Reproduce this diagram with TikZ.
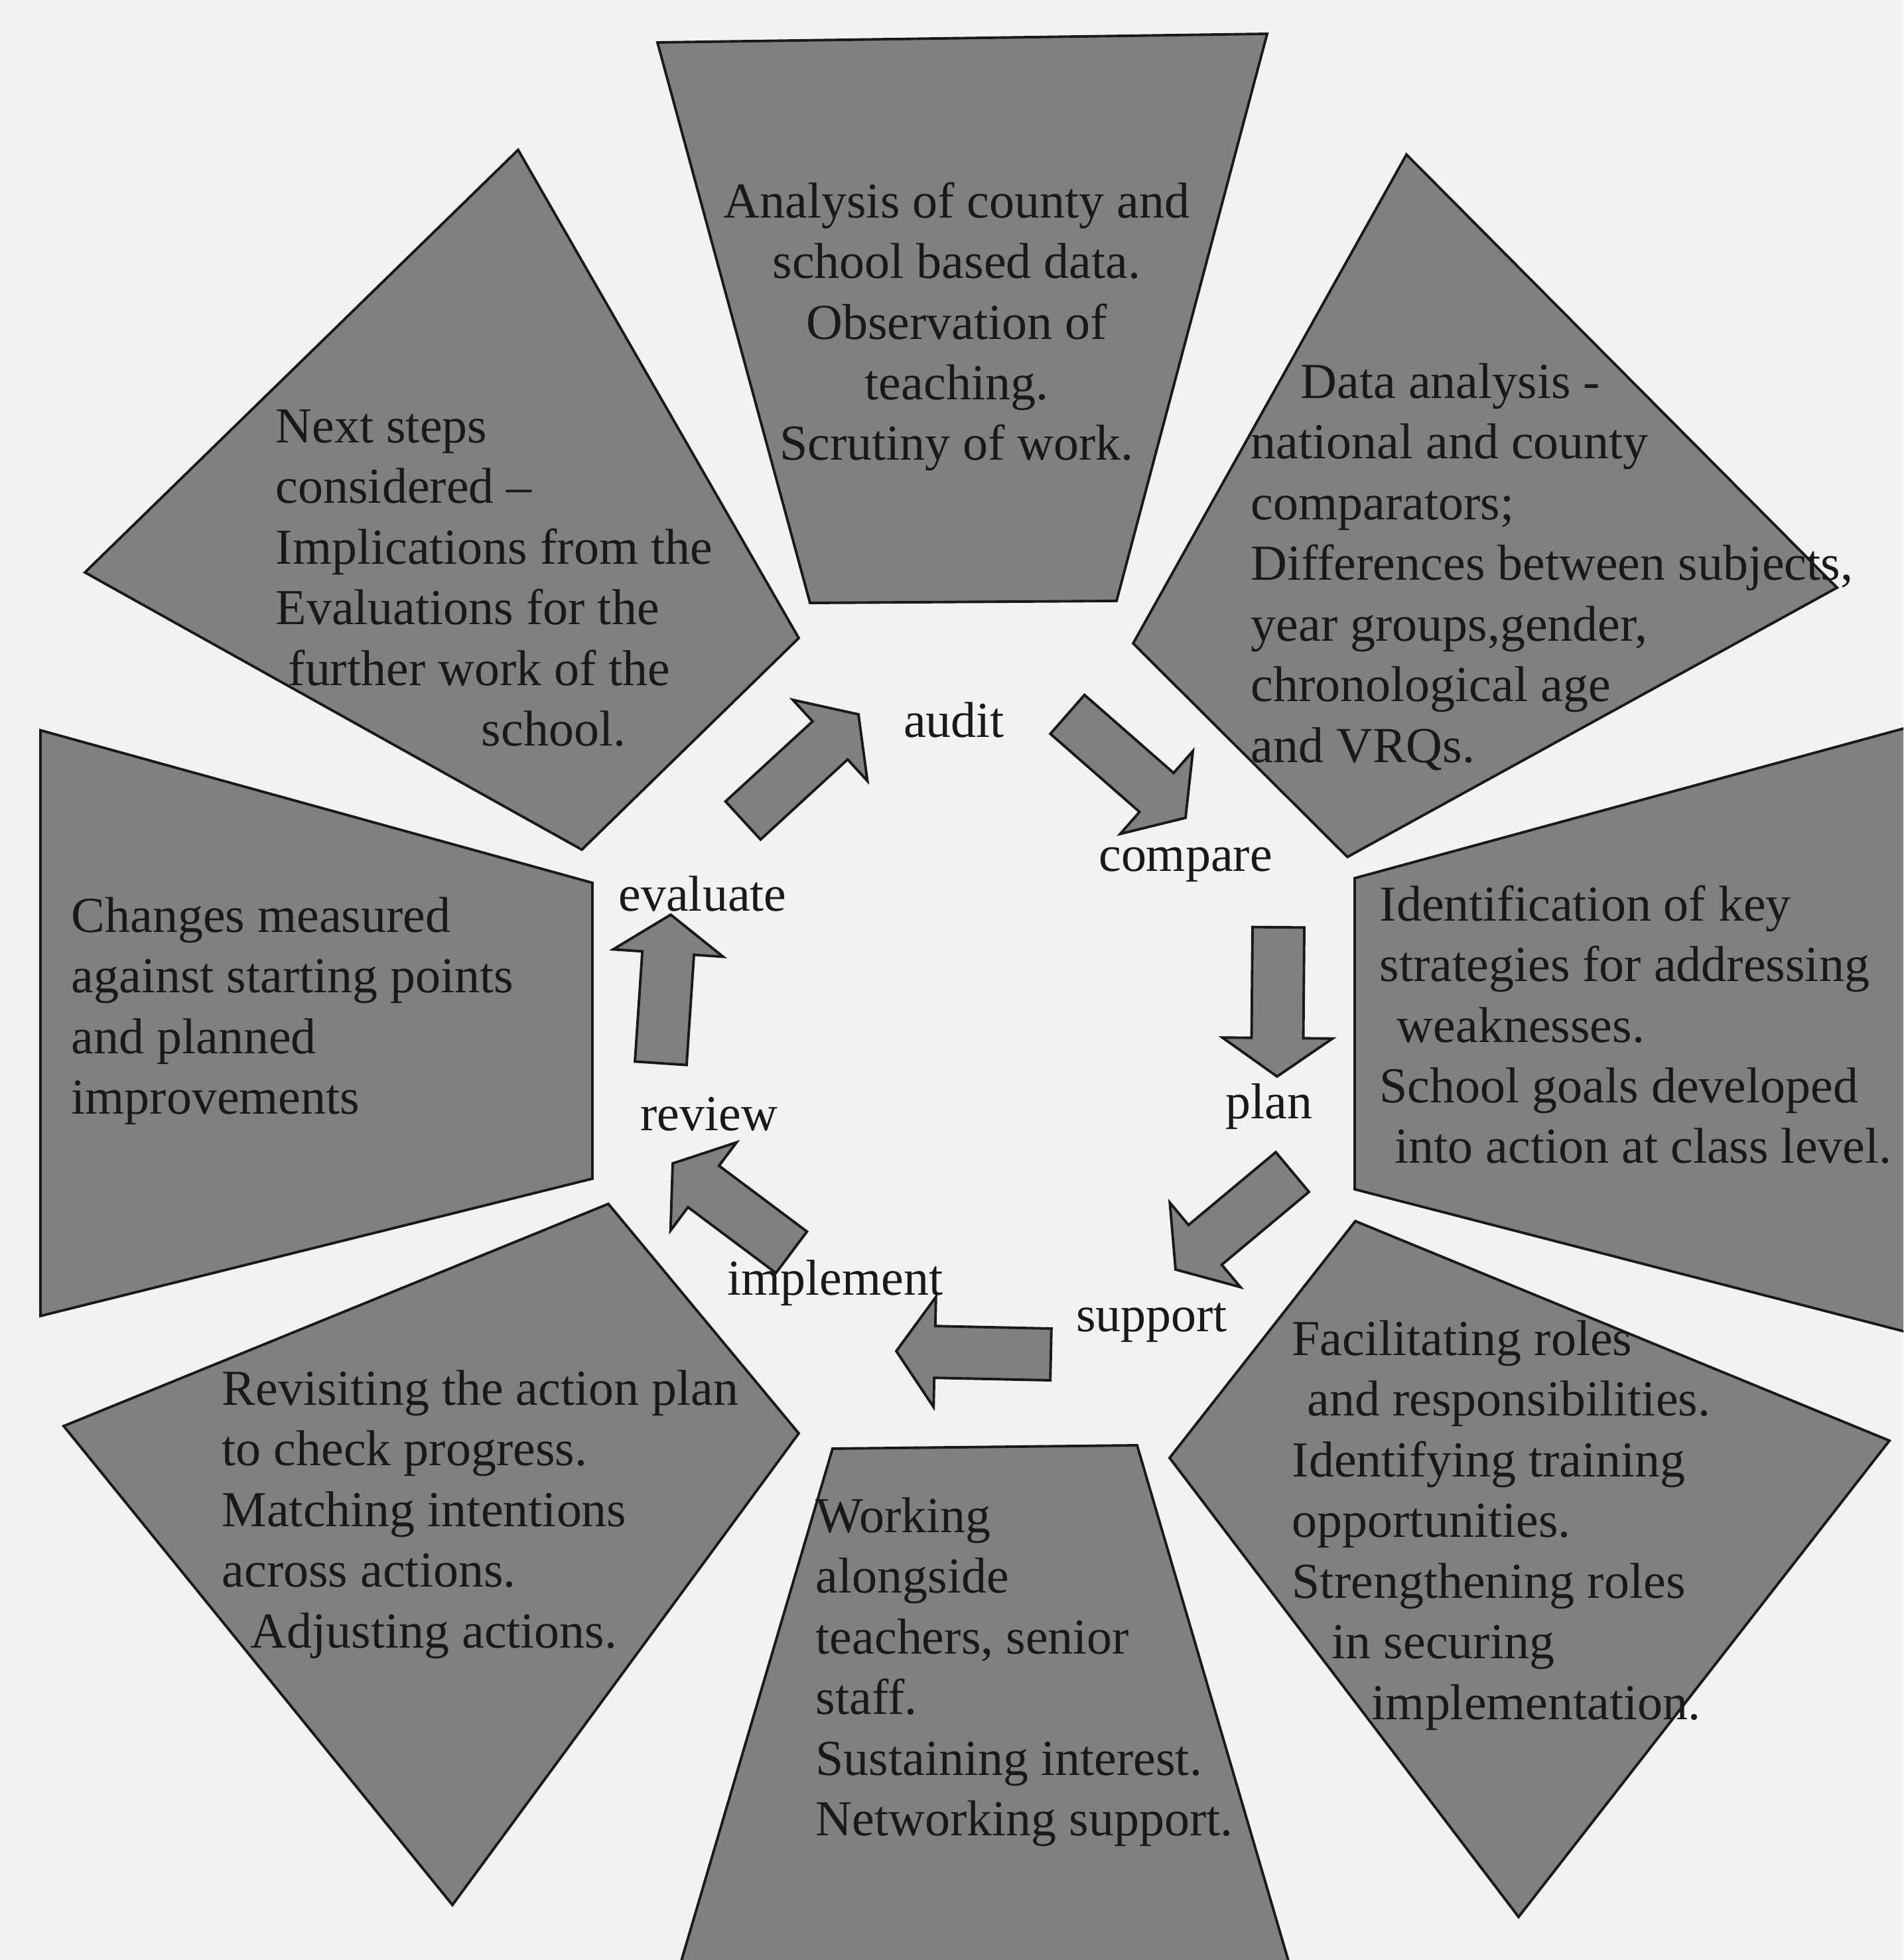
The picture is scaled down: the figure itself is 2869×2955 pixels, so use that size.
\documentclass[tikz,border=0pt]{standalone}
\usepackage{fontspec}
\setmainfont{Liberation Serif}
\usetikzlibrary{calc}

\definecolor{boxgray}{gray}{0.5}
\definecolor{inkgray}{gray}{0.1}
\definecolor{papergray}{gray}{0.95}

% block arrow from tail coordinate #1 to tip coordinate #2
\newcommand{\cyclearrow}[2]{%
  \path ($(#2)!0.58cm!(#1)$) coordinate (arrhead);
  \draw[cyclearr] ($(#1)!0.39cm!90:(#2)$) -- ($(arrhead)!0.39cm!-90:(#1)$)
    -- ($(arrhead)!0.83cm!-90:(#1)$) -- (#2) -- ($(arrhead)!0.83cm!90:(#1)$)
    -- ($(arrhead)!0.39cm!90:(#1)$) -- ($(#1)!0.39cm!-90:(#2)$) -- cycle;
}

\begin{document}
\begin{tikzpicture}
  [x=0.01cm, y=-0.01cm,
   panel/.style={fill=boxgray, draw=inkgray, line width=1.1pt, line join=miter},
   cyclearr/.style={fill=boxgray, draw=inkgray, line width=1.1pt},
   txt/.style={align=left, anchor=north west, inner sep=0pt, text=inkgray,
               font=\fontsize{21.6}{26}\selectfont},
   stage/.style={inner sep=0pt, text=inkgray, font=\fontsize{21.6}{26}\selectfont}]

  \useasboundingbox (0,0) rectangle (2869,2955);
  \fill[papergray] (0,0) rectangle (2869,2955);
  \clip (0,0) rectangle (2869,2955);

  % the eight panels
  \draw[panel] (991,64) -- (1910,51) -- (1683,906) -- (1221,909) -- cycle;
  \draw[panel] (2120,233) -- (2769,886) -- (2031,1292) -- (1708,970) -- cycle;
  \draw[panel] (2042,1324) -- (2900,1090) -- (2900,2015) -- (2042,1793) -- cycle;
  \draw[panel] (2043,1841) -- (2848,2172) -- (2289,2890) -- (1763,2198) -- cycle;
  \draw[panel] (1255,2184) -- (1714,2179) -- (1952,2990) -- (1017,2990) -- cycle;
  \draw[panel] (917,1815) -- (1204,2161) -- (682,2872) -- (96,2150) -- cycle;
  \draw[panel] (61,1101) -- (893,1331) -- (893,1777) -- (61,1984) -- cycle;
  \draw[panel] (781,226) -- (1204,962) -- (877,1281) -- (128,863) -- cycle;

  % panel texts
  \node[txt, align=center, anchor=north] (audittxt) at (1442,274)
    {Analysis of county and\\ school based data.\\ Observation of\\ teaching.\\ Scrutiny of work.};
  \node[txt] (comparetxt) at (1885,547)
    {\hspace*{0.75cm}Data analysis -\\ national and county\\ comparators;\\
     Differences between subjects,\\ year groups,gender,\\ chronological age\\ and VRQs.};
  \node[txt] (plantxt) at (2079,1334)
    {Identification of key\\ strategies for addressing\\ \hspace*{0.26cm}weaknesses.\\
     School goals developed\\ \hspace*{0.23cm}into action at class level.};
  \node[txt] (supporttxt) at (1947,1990)
    {Facilitating roles\\ \hspace*{0.23cm}and responsibilities.\\ Identifying training\\
     opportunities.\\ Strengthening roles\\ \hspace*{0.6cm}in securing\\
     \hspace*{1.2cm}implementation.};
  \node[txt] (implementtxt) at (1229,2257)
    {Working\\ alongside\\ teachers, senior\\ staff.\\ Sustaining interest.\\ Networking support.};
  \node[txt] (reviewtxt) at (334,2065)
    {Revisiting the action plan\\ to check progress.\\ Matching intentions\\
     across actions.\\ \hspace*{0.43cm}Adjusting actions.};
  \node[txt] (evaluatetxt) at (107,1352)
    {Changes measured\\ against starting points\\ and planned\\ improvements};
  \node[txt] (nexttxt) at (415,617)
    {Next steps\\ considered --\\ Implications from the\\ Evaluations for the\\
     \hspace*{0.19cm}further work of the\\ \hspace*{3.1cm}school.};

  % stages of the cycle
  \node[stage] (audit) at (1438,1086) {audit};
  \node[stage] (compare) at (1787,1304) {compare};
  \node[stage] (plan) at (1913,1668) {plan};
  \node[stage] (support) at (1736,1994) {support};
  \node[stage] (implement) at (1259,1934) {implement};
  \node[stage] (review) at (1069,1680) {review};
  \node[stage] (evaluate) at (1059,1348) {evaluate};

  % arrows between the stages
  \coordinate (a1s) at (1120,1237); \coordinate (a1e) at (1294,1077);
  \coordinate (a2s) at (1609,1077); \coordinate (a2e) at (1787,1233);
  \coordinate (a3s) at (1927,1398); \coordinate (a3e) at (1925,1623);
  \coordinate (a4s) at (1948,1767); \coordinate (a4e) at (1772,1914);
  \coordinate (a5s) at (1584,2042); \coordinate (a5e) at (1351,2037);
  \coordinate (a6s) at (1193,1888); \coordinate (a6e) at (1014,1754);
  \coordinate (a7s) at (996,1603);  \coordinate (a7e) at (1011,1379);
  \cyclearrow{a1s}{a1e}
  \cyclearrow{a2s}{a2e}
  \cyclearrow{a3s}{a3e}
  \cyclearrow{a4s}{a4e}
  \cyclearrow{a5s}{a5e}
  \cyclearrow{a6s}{a6e}
  \cyclearrow{a7s}{a7e}
\end{tikzpicture}
\end{document}
